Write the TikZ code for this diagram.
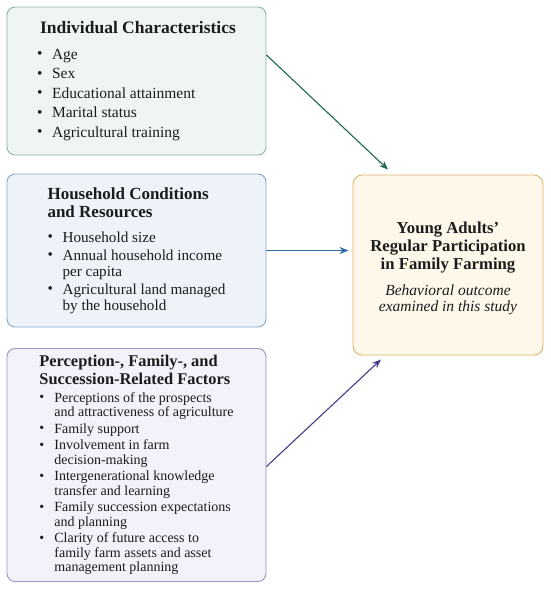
\documentclass[tikz,border=0pt]{standalone}
\usepackage{fontspec}
\setmainfont{Liberation Serif}
\usetikzlibrary{positioning,arrows.meta}

\definecolor{indline}{HTML}{8DB59E}
\definecolor{indfill}{HTML}{EFF6F2}
\definecolor{indarrow}{HTML}{1E6B4C}
\definecolor{hhline}{HTML}{82A6CC}
\definecolor{hhfill}{HTML}{EEF3FA}
\definecolor{hharrow}{HTML}{2E6AA6}
\definecolor{perline}{HTML}{9D93C2}
\definecolor{perfill}{HTML}{F3F1F9}
\definecolor{perarrow}{HTML}{4A3A8A}
\definecolor{outline}{HTML}{D9B565}
\definecolor{outfill}{HTML}{FDF8EA}
\definecolor{txt}{HTML}{1C1C1C}

\newcommand{\itm}{\makebox[15pt][l]{\raisebox{0.5pt}{\textbullet}}}
\newcommand{\cnt}{\hspace*{15pt}}
\newcommand{\boxtitle}[2][17]{{\fontsize{#1}{18}\selectfont\bfseries #2}}
\newcommand{\outtitle}[1]{{\fontsize{16.7}{18}\selectfont\bfseries #1}}

\begin{document}
\begin{tikzpicture}[x=1pt, y=-1pt, thick,
    factor/.style={draw, rounded corners=8pt, line width=0.9pt, align=left,
                   text=txt, minimum width=259pt, inner sep=0pt},
    outcome node/.style={draw=outline, fill=outfill, rounded corners=9pt,
                   line width=0.9pt, align=center, text=txt,
                   minimum width=190pt, minimum height=180pt, inner sep=0pt},
    link/.style={line width=1.1pt, -{Stealth[length=9pt,width=7pt]}}]

  \useasboundingbox (0,0) rectangle (550,591);
  \fill[white] (0,0) rectangle (550,591);

  % three groups of factors
  \node[factor, draw=indline, fill=indfill, minimum height=148pt,
        font=\fontsize{15.5}{19.5}\selectfont] (ind) at (136.5,81)
    {\hspace*{3pt}\boxtitle[17.5]{Individual Characteristics}\\[6pt]
     \itm Age\\
     \itm Sex\\
     \itm Educational attainment\\
     \itm Marital status\\
     \itm Agricultural training};

  \node[factor, draw=hhline, fill=hhfill, minimum height=153pt,
        font=\fontsize{15.2}{16}\selectfont] (hh) at (136.5,250.5)
    {\boxtitle{Household Conditions}\\[2pt]
     \boxtitle{and Resources}\\[9pt]
     \itm Household size\\[2pt]
     \itm Annual household income\\
     \cnt per capita\\[2pt]
     \itm Agricultural land managed\\
     \cnt by the household};

  \node[factor, draw=perline, fill=perfill, minimum height=233pt,
        font=\fontsize{14}{14.5}\selectfont] (per) at (136.5,465)
    {\boxtitle[16.4]{Perception-, Family-, and}\\[2pt]
     \boxtitle[16.4]{Succession-Related Factors}\\[3pt]
     \itm Perceptions of the prospects\\
     \cnt and attractiveness of agriculture\\[2pt]
     \itm Family support\\[2pt]
     \itm Involvement in farm\\
     \cnt decision-making\\[2pt]
     \itm Intergenerational knowledge\\
     \cnt transfer and learning\\[2pt]
     \itm Family succession expectations\\
     \cnt and planning\\[2pt]
     \itm Clarity of future access to\\
     \cnt family farm assets and asset\\
     \cnt management planning};

  % the outcome
  \node[outcome node, font=\fontsize{15.5}{18}\selectfont] (out) at (448,265)
    {\mbox{}\\
     \outtitle{Young Adults'}\\
     \outtitle{Regular Participation}\\
     \outtitle{in Family Farming}\\[8pt]
     \textit{Behavioral outcome}\\[-2pt]
     \textit{examined in this study}};

  \draw[link, indarrow] ([yshift=26pt]ind.east) -- ([xshift=-60pt,yshift=5pt]out.north);
  \draw[link, hharrow] (hh.east) -- ([xshift=-4pt]hh.east -| out.west);
  \draw[link, perarrow] ([yshift=-1.5pt]per.east) -- ([xshift=-67pt,yshift=-4pt]out.south);
\end{tikzpicture}
\end{document}
